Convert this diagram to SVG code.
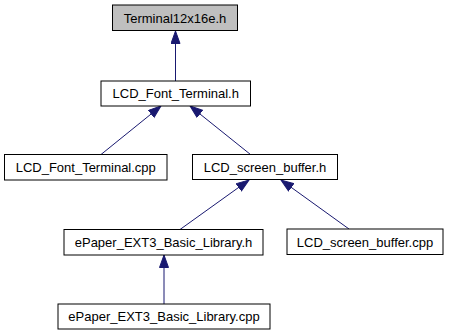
<svg xmlns="http://www.w3.org/2000/svg" width="451" height="336" viewBox="0 0 451 336">
  <style>
    .node rect { fill: #ffffff; stroke: #000000; stroke-width: 1; }
    .node.root rect { fill: #bfbfbf; }
    .node text { font-family: "Liberation Sans", Arial, Helvetica, sans-serif; font-size: 13px; fill: #000000; text-anchor: middle; }
    .edge { stroke: #191970; stroke-width: 1; fill: none; marker-end: url(#head); }
  </style>
  <defs>
    <marker id="head" markerUnits="userSpaceOnUse" markerWidth="14" markerHeight="11" refX="13" refY="5" orient="auto">
      <path d="M0.5,0.5 L13,5 L0.5,9.5 Z" fill="#191970" stroke="#191970" stroke-width="1"/>
    </marker>
  </defs>
  <rect width="451" height="336" fill="#ffffff"/>

  <!-- include dependency edges: arrow points at the included header -->
  <g id="edges">
    <line class="edge" x1="175.5" y1="81" x2="175.5" y2="31"/>
    <line class="edge" x1="101" y1="154.5" x2="161" y2="106"/>
    <line class="edge" x1="250.5" y1="154.5" x2="190" y2="106"/>
    <line class="edge" x1="180" y1="229.5" x2="249" y2="180"/>
    <line class="edge" x1="349" y1="229" x2="281" y2="180"/>
    <line class="edge" x1="164" y1="304" x2="164" y2="255"/>
  </g>

  <g id="node-terminal12x16e-h" class="node root">
    <rect x="112.5" y="5" width="125" height="25.5"/>
    <text x="175" y="22.5">Terminal12x16e.h</text>
  </g>
  <g id="node-lcd-font-terminal-h" class="node">
    <rect x="101" y="81" width="149.5" height="25"/>
    <text x="175.75" y="98">LCD_Font_Terminal.h</text>
  </g>
  <g id="node-lcd-font-terminal-cpp" class="node">
    <rect x="4.5" y="154.5" width="162.5" height="25.5"/>
    <text x="85.75" y="171.5">LCD_Font_Terminal.cpp</text>
  </g>
  <g id="node-lcd-screen-buffer-h" class="node">
    <rect x="192.5" y="154.5" width="145" height="25"/>
    <text x="265" y="171.5">LCD_screen_buffer.h</text>
  </g>
  <g id="node-epaper-ext3-basic-library-h" class="node">
    <rect x="64" y="229.5" width="199" height="25.5"/>
    <text x="163.5" y="246.5">ePaper_EXT3_Basic_Library.h</text>
  </g>
  <g id="node-lcd-screen-buffer-cpp" class="node">
    <rect x="287" y="229" width="156" height="25.5"/>
    <text x="365" y="246.5">LCD_screen_buffer.cpp</text>
  </g>
  <g id="node-epaper-ext3-basic-library-cpp" class="node">
    <rect x="58" y="304" width="212" height="25"/>
    <text x="164" y="321">ePaper_EXT3_Basic_Library.cpp</text>
  </g>
</svg>
